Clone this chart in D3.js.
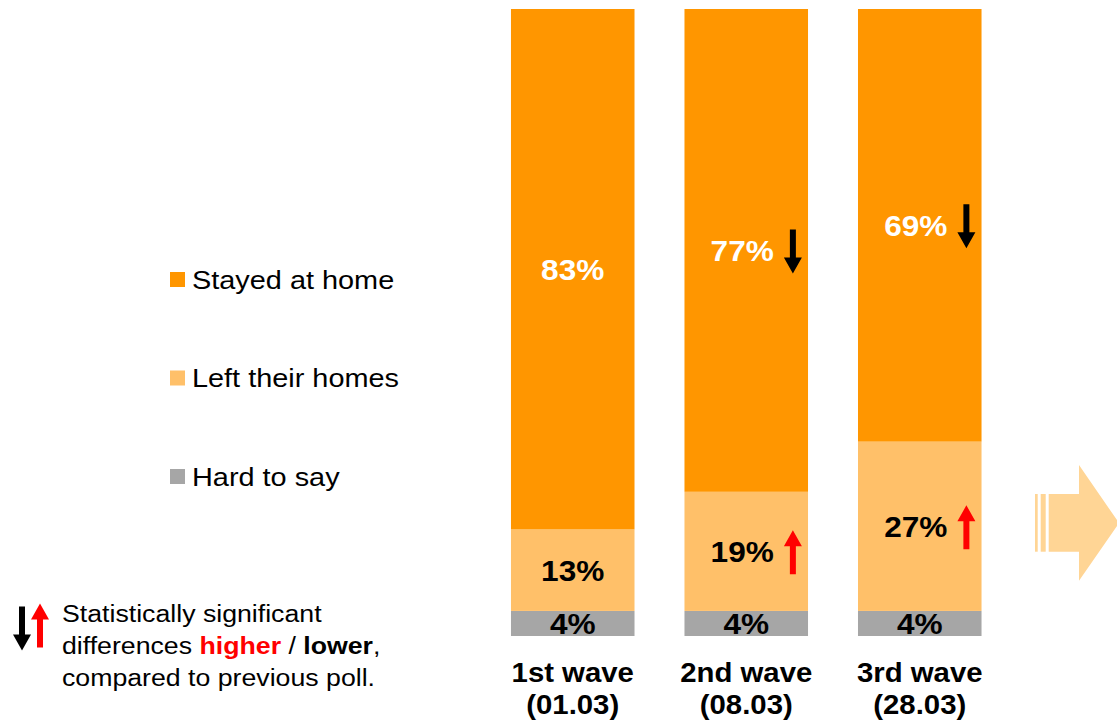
<!DOCTYPE html>
<html>
<head>
<meta charset="utf-8">
<script src="https://cdn.jsdelivr.net/npm/d3@7"></script>
<style>
  html, body { margin: 0; padding: 0; background: #fff; }
  svg { display: block; font-family: "Liberation Sans", Arial, sans-serif; }
</style>
</head>
<body>
<svg id="chart" width="1117" height="720"></svg>
<script>
// Survey waves and answer shares (percent)
const waves = ["1st wave", "2nd wave", "3rd wave"];
const waveDates = ["(01.03)", "(08.03)", "(28.03)"];
const answers = ["Stayed at home", "Left their homes", "Hard to say"];
const stayedAtHome = [83, 77, 69];
const leftHomes = [13, 19, 27];
const hardToSay = [4, 4, 4];
// Significant change vs previous poll: "up", "down" or null
const sigStayed = [null, "down", "down"];
const sigLeft = [null, "up", "up"];
const sigHard = [null, null, null];

const colors = ["#FF9600", "#FFC069", "#A6A6A6"];
const labelColors = ["#fff", "#000", "#000"];
const arrowColors = { up: "#FF0000", down: "#000000" };

// Text in this layout is set slightly wide
const SX = 1.09;
const widen = ax => `translate(${ax},0) scale(${SX},1) translate(${-ax},0)`;

const svg = d3.select("#chart");

const rows = waves.map((w, i) => ({
  wave: w, date: waveDates[i],
  values: [stayedAtHome[i], leftHomes[i], hardToSay[i]],
  sig: [sigStayed[i], sigLeft[i], sigHard[i]]
}));

const x = d3.scaleBand().domain(waves).range([461, 1031.5]).paddingInner(0.288).paddingOuter(0.288);
const y = d3.scaleLinear().domain([0, 100]).range([636, 9]);

// Stack order: hard to say at the bottom, then left, then stayed on top
const stackKeys = [2, 1, 0];
const stacked = d3.stack()
  .keys(stackKeys)
  .value((d, k) => d.values[k])(rows);

function arrowPath(cx, cy, dir) {
  const len = 44, shaftW = 6, headW = 18, headL = 16;
  const s = dir === "up" ? -1 : 1;
  const y0 = cy - s * len / 2, y1 = cy + s * len / 2, yh = y1 - s * headL;
  return `M${cx - shaftW / 2},${y0} L${cx + shaftW / 2},${y0} L${cx + shaftW / 2},${yh} ` +
         `L${cx + headW / 2},${yh} L${cx},${y1} L${cx - headW / 2},${yh} L${cx - shaftW / 2},${yh} Z`;
}

const layers = svg.append("g").selectAll("g")
  .data(stacked).join("g")
  .attr("fill", d => colors[d.key]);

layers.selectAll("rect")
  .data(d => d.map(p => ({ p, key: d.key })))
  .join("rect")
  .attr("x", d => x(d.p.data.wave))
  .attr("width", x.bandwidth())
  .attr("y", d => y(d.p[1]))
  .attr("height", d => y(d.p[0]) - y(d.p[1]));

// Value labels with significance arrows
const labelG = svg.append("g");
stacked.forEach(layer => {
  layer.forEach(p => {
    const k = layer.key;
    const row = p.data;
    const v = row.values[k];
    const sig = row.sig[k];
    const cy = (y(p[0]) + y(p[1])) / 2;
    const cx = x(row.wave) + x.bandwidth() / 2 + (sig ? -4 : 0);
    const t = labelG.append("text")
      .attr("x", cx).attr("y", cy)
      .attr("dy", "0.36em")
      .attr("text-anchor", "middle")
      .attr("transform", widen(cx))
      .attr("font-size", 29).attr("font-weight", "bold")
      .attr("fill", labelColors[k])
      .text(v + "%");
    if (sig) {
      const w = t.node().getComputedTextLength() * SX;
      labelG.append("path")
        .attr("d", arrowPath(cx + w / 2 + 19, cy + 1, sig))
        .attr("fill", arrowColors[sig]);
    }
  });
});

// Category labels under the bars
const catG = svg.append("g");
rows.forEach(r => {
  const cx = x(r.wave) + x.bandwidth() / 2;
  const t = catG.append("text")
    .attr("x", cx).attr("text-anchor", "middle")
    .attr("transform", `translate(${cx},0) scale(1.03,1) translate(${-cx},0)`)
    .attr("font-size", 28.5).attr("font-weight", "bold").attr("fill", "#000");
  t.append("tspan").attr("x", cx).attr("y", 682).text(r.wave);
  t.append("tspan").attr("x", cx).attr("y", 714).text(r.date);
});

// Legend
const legend = svg.append("g");
answers.forEach((a, i) => {
  const ly = 279.5 + i * 98.5;
  legend.append("rect").attr("x", 170).attr("y", ly - 7.5).attr("width", 15).attr("height", 15)
    .attr("fill", colors[i]);
  legend.append("text").attr("x", 192).attr("y", ly).attr("dy", "0.35em")
    .attr("transform", widen(192))
    .attr("font-size", 26.5).attr("fill", "#000").text(a);
});

// Significance note
const note = svg.append("g");
note.append("path").attr("d", arrowPath(22, 628.5, "down")).attr("fill", arrowColors.down);
note.append("path").attr("d", arrowPath(40, 625.5, "up")).attr("fill", arrowColors.up);
const nt = note.append("text").attr("font-size", 24.5).attr("fill", "#000")
  .attr("transform", widen(62));
nt.append("tspan").attr("x", 62).attr("y", 622).text("Statistically significant");
const l2 = nt.append("tspan").attr("x", 62).attr("y", 654);
l2.append("tspan").text("differences ");
l2.append("tspan").attr("font-weight", "bold").attr("fill", "#FF0000").text("higher");
l2.append("tspan").text(" / ");
l2.append("tspan").attr("font-weight", "bold").text("lower");
l2.append("tspan").text(",");
nt.append("tspan").attr("x", 62).attr("y", 686).text("compared to previous poll.");

// Decorative block arrow pointing right
const ba = svg.append("g").attr("fill", "#FFD595");
ba.append("rect").attr("x", 1035).attr("y", 494).attr("width", 2.7).attr("height", 57.7);
ba.append("rect").attr("x", 1040.7).attr("y", 494).attr("width", 5).attr("height", 57.7);
ba.append("path").attr("d", "M1048.7,494 L1079,494 L1079,465 L1119,523 L1079,580.7 L1079,551.7 L1048.7,551.7 Z");
</script>
</body>
</html>
